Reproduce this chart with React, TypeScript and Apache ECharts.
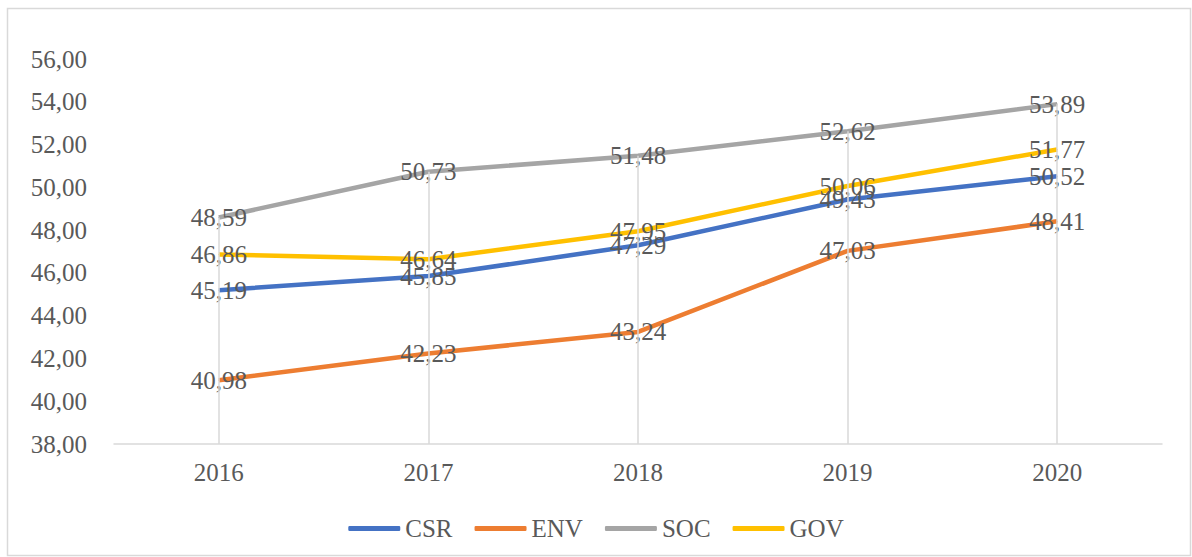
import React, { useEffect, useRef } from "react";
import * as echarts from "echarts";

const years = ["2016", "2017", "2018", "2019", "2020"];
const csr = [45.19, 45.85, 47.29, 49.43, 50.52];
const env = [40.98, 42.23, 43.24, 47.03, 48.41];
const soc = [48.59, 50.73, 51.48, 52.62, 53.89];
const gov = [46.86, 46.64, 47.95, 50.06, 51.77];
const seriesNames = ["CSR", "ENV", "SOC", "GOV"];
const seriesColors = ["#4472C4", "#ED7D31", "#A5A5A5", "#FFC000"];
const yMin = 38;
const yMax = 56;

const FONT = "'Liberation Serif', 'Times New Roman', serif";
const TEXT = "#595959";
const FS = 25;

const fmt = (v: number) => v.toFixed(2).replace(".", ",");

export default function App() {
  const ref = useRef<HTMLDivElement>(null);
  useEffect(() => {
    if (!ref.current) return;
    const chart = echarts.init(ref.current, undefined, { renderer: "svg" });
    const all = [csr, env, soc, gov];
    const maxPerYear = years.map((_, i) => Math.max(...all.map((s) => s[i])));
    const dropLines = years.map((_, i) => [
      { xAxis: i, yAxis: yMin },
      { xAxis: i, yAxis: maxPerYear[i] },
    ]);
    chart.setOption({
      animation: false,
      backgroundColor: "#ffffff",
      graphic: [
        {
          type: "rect",
          shape: { x: 7.5, y: 8.5, width: 1183, height: 547 },
          style: { fill: "none", stroke: "#D9D9D9", lineWidth: 1.5 },
          z: -1,
        },
      ],
      grid: { left: 114, right: 30, top: 59, bottom: 113 },
      legend: {
        top: 511,
        left: "center",
        itemWidth: 52,
        itemHeight: 5,
        itemGap: 22,
        icon: "roundRect",
        textStyle: { fontFamily: FONT, fontSize: FS, color: TEXT },
        data: seriesNames,
      },
      xAxis: {
        type: "category",
        data: years,
        boundaryGap: true,
        axisLine: { show: true, lineStyle: { color: "#D9D9D9", width: 1.5 } },
        axisTick: { show: false },
        axisLabel: { fontFamily: FONT, fontSize: FS, color: TEXT, margin: 16 },
        splitLine: { show: false },
      },
      yAxis: {
        type: "value",
        min: yMin,
        max: yMax,
        interval: 2,
        axisLine: { show: false },
        axisTick: { show: false },
        splitLine: { show: false },
        axisLabel: {
          fontFamily: FONT,
          fontSize: FS,
          color: TEXT,
          margin: 27,
          formatter: (v: number) => fmt(v),
        },
      },
      series: [
        {
          name: "__drop",
          type: "line",
          data: [],
          silent: true,
          z: 1,
          markLine: {
            silent: true,
            symbol: "none",
            label: { show: false },
            lineStyle: { color: "#D9D9D9", width: 1.5, type: "solid" },
            data: dropLines,
          },
        },
        ...[csr, env, soc, gov].map((d, k) => ({
          name: seriesNames[k],
          type: "line",
          data: d,
          symbol: "circle",
          symbolSize: 1,
          showSymbol: true,
          z: 3,
          color: seriesColors[k],
          itemStyle: { color: seriesColors[k] },
          lineStyle: { color: seriesColors[k], width: 4.5 },
          labelLayout: { hideOverlap: false },
          label: {
            show: true,
            position: "inside",
            fontFamily: FONT,
            fontSize: FS,
            color: TEXT,
            formatter: (p: any) => fmt(p.value),
          },
        })),
      ],
    });
    return () => chart.dispose();
  }, []);
  return (
    <div
      ref={ref}
      style={{ position: "fixed", left: 0, top: 0, width: 1192, height: 557 }}
    />
  );
}
